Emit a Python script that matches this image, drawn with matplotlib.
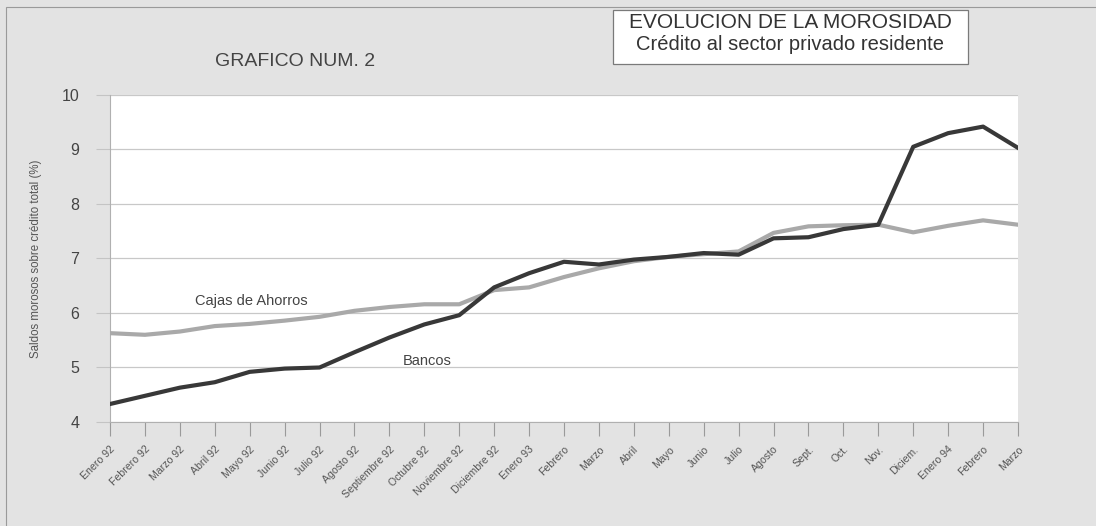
import matplotlib
matplotlib.use("Agg")
import matplotlib.pyplot as plt
from matplotlib.patches import Rectangle

plt.rcParams['font.family'] = ['Liberation Sans', 'DejaVu Sans']

months = ["Enero 92", "Febrero 92", "Marzo 92", "Abril 92", "Mayo 92", "Junio 92",
          "Julio 92", "Agosto 92", "Septiembre 92", "Octubre 92", "Noviembre 92",
          "Diciembre 92", "Enero 93", "Febrero", "Marzo", "Abril", "Mayo", "Junio",
          "Julio", "Agosto", "Sept.", "Oct.", "Nov.", "Diciem.", "Enero 94",
          "Febrero", "Marzo"]
bancos = [4.33, 4.48, 4.63, 4.73, 4.92, 4.98, 5.00, 5.28, 5.55, 5.79, 5.96, 6.47,
          6.73, 6.94, 6.89, 6.98, 7.03, 7.10, 7.07, 7.37, 7.39, 7.54, 7.62, 9.05,
          9.30, 9.42, 9.03]
cajas = [5.63, 5.60, 5.66, 5.76, 5.80, 5.86, 5.93, 6.04, 6.11, 6.16, 6.16, 6.42,
         6.47, 6.66, 6.82, 6.95, 7.03, 7.08, 7.13, 7.47, 7.59, 7.61, 7.62, 7.48,
         7.60, 7.70, 7.62]
yticks = [4, 5, 6, 7, 8, 9, 10]

W, H = 1096, 526
fig = plt.figure(figsize=(W / 100, H / 100), dpi=100, facecolor='#e3e3e3')

# outer frame (top and left visible)
fig.add_artist(Rectangle((6 / W, -0.05), 1.2, 1 - 7 / H + 0.05, transform=fig.transFigure,
                         fill=False, edgecolor='#9a9a9a', linewidth=0.8))

ax = fig.add_axes([110 / W, 1 - 422 / H, (1018 - 110) / W, (422 - 95) / H])
ax.set_facecolor('white')
x = list(range(len(months)))

ax.plot(x, cajas, color='#a9a9a9', linewidth=3.0, solid_joinstyle='round', zorder=3)
ax.plot(x, bancos, color='#383838', linewidth=3.0, solid_joinstyle='round', zorder=4)

ax.set_xlim(0, len(months) - 1)
ax.set_ylim(4, 10)
ax.set_yticks(yticks)
ax.set_yticklabels([str(v) for v in yticks], fontsize=11.5, color='#444444')
ax.set_xticks(x)
ax.set_xticklabels(months, rotation=45, ha='right', rotation_mode='anchor',
                   fontsize=7.6, color='#555555')
ax.tick_params(axis='x', direction='out', length=10, width=0.8, color='#9a9a9a', pad=6)
ax.tick_params(axis='y', direction='out', length=10, width=0.8, color='#c4c4c4', pad=12)
ax.grid(axis='y', color='#c8c8c8', linewidth=0.9)
ax.set_axisbelow(True)
for side in ['top', 'right']:
    ax.spines[side].set_visible(False)
ax.spines['left'].set_color('#b0b0b0')
ax.spines['bottom'].set_color('#b0b0b0')

ax.set_ylabel('Saldos morosos sobre crédito total (%)', fontsize=8.3, color='#555555',
              labelpad=14)

ax.text(0.094, 0.370, 'Cajas de Ahorros', transform=ax.transAxes, fontsize=10.5,
        color='#444444', ha='left', va='center')
ax.text(0.322, 0.188, 'Bancos', transform=ax.transAxes, fontsize=10.5,
        color='#444444', ha='left', va='center')

fig.text(295 / W, 1 - 62 / H, 'GRAFICO NUM. 2', fontsize=14, color='#444444',
         ha='center', va='center')

fig.add_artist(Rectangle((613 / W, 1 - 64 / H), (968 - 613) / W, (64 - 10) / H,
                         transform=fig.transFigure, facecolor='white',
                         edgecolor='#7a7a7a', linewidth=0.9))
fig.text(790 / W, 1 - 23 / H, 'EVOLUCION DE LA MOROSIDAD', fontsize=15,
         color='#333333', ha='center', va='center')
fig.text(790 / W, 1 - 45 / H, 'Crédito al sector privado residente', fontsize=14.5,
         color='#333333', ha='center', va='center')

fig.savefig('out.png', dpi=100, facecolor=fig.get_facecolor())
